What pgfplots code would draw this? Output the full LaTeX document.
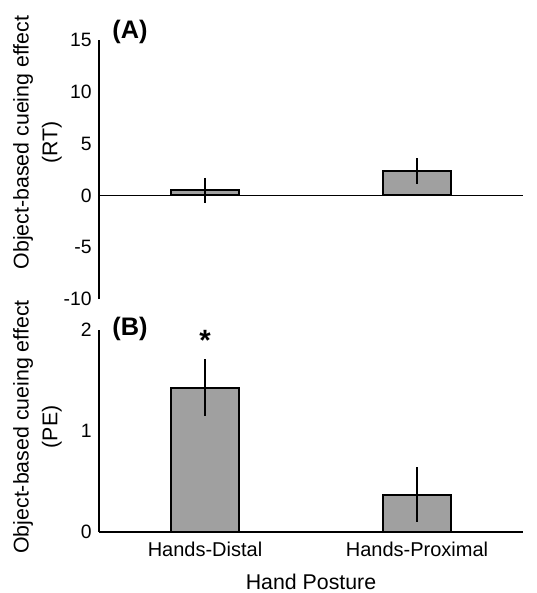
\documentclass[border=0pt]{standalone}
\usepackage{fontspec}
\setmainfont{Liberation Sans}
\usepackage{pgfplots}
\pgfplotsset{compat=1.18}
\definecolor{barfill}{RGB}{160,160,160}

\pgfplotsset{
  panel/.style={
    scale only axis, width=318pt,
    xmin=-0.5, xmax=1.5, xtick={0,1},
    axis y line=left,
    axis line style={-, line width=1.5pt, black},
    major tick length=0pt,
    tick label style={font=\fontsize{14.5}{17}\selectfont},
    yticklabel style={xshift=-2pt},
    /pgf/number format/assume math mode=true,
    label style={font=\fontsize{16}{21.5}\selectfont, align=center},
    clip=false,
  },
  bars/.style={
    ybar, bar width=0.32, fill=barfill, draw=black, line width=1.5pt,
    error bars/y dir=both, error bars/y explicit,
    error bars/error mark=none,
    error bars/error bar style={line width=1.5pt, black},
  },
}

\begin{document}
\begin{tikzpicture}
\useasboundingbox (0,0) rectangle (402pt,-444.75pt);

% (A) reaction times
\begin{axis}[panel,
  at={(74.25pt,-30pt)}, anchor=north west, height=194.25pt,
  ymin=-10, ymax=15, ytick={-10,-5,0,5,10,15},
  axis x line=none,
  ylabel={Object-based cueing effect\\(RT)},
  ylabel style={at={(rel axis cs:-0.145,0.604)}, anchor=center},
]
\draw[line width=0.8pt] (axis cs:-0.5,0) -- (axis cs:1.5,0);
\addplot[bars] coordinates {(0,0.48) +- (0,1.22) (1,2.35) +- (0,1.25)};
\node[anchor=west, inner sep=0pt, font=\fontsize{19}{22}\selectfont\bfseries]
  at (rel axis cs:0.031,1.033) {(A)};
\end{axis}

% (B) proportion of errors
\begin{axis}[panel,
  at={(74.25pt,-247.5pt)}, anchor=north west, height=151.5pt,
  ymin=0, ymax=2, ytick={0,1,2},
  axis x line=bottom,
  x axis line style={-},
  xticklabels={Hands-Distal,Hands-Proximal},
  xticklabel style={font=\fontsize{15}{18}\selectfont, yshift=-4pt},
  xlabel={Hand Posture},
  xlabel style={at={(rel axis cs:0.5,-0.245)}, anchor=center},
  ylabel={Object-based cueing effect\\(PE)},
  ylabel style={at={(rel axis cs:-0.145,0.52)}, anchor=center},
]
\addplot[bars] coordinates {(0,1.43) +- (0,0.28) (1,0.37) +- (0,0.27)};
\node[anchor=west, inner sep=0pt, font=\fontsize{19}{22}\selectfont\bfseries]
  at (rel axis cs:0.031,1.007) {(B)};
\node[anchor=base, inner sep=0pt, font=\fontsize{22}{26}\selectfont\bfseries]
  at (axis cs:0,1.80) {*};
\end{axis}
\end{tikzpicture}
\end{document}
